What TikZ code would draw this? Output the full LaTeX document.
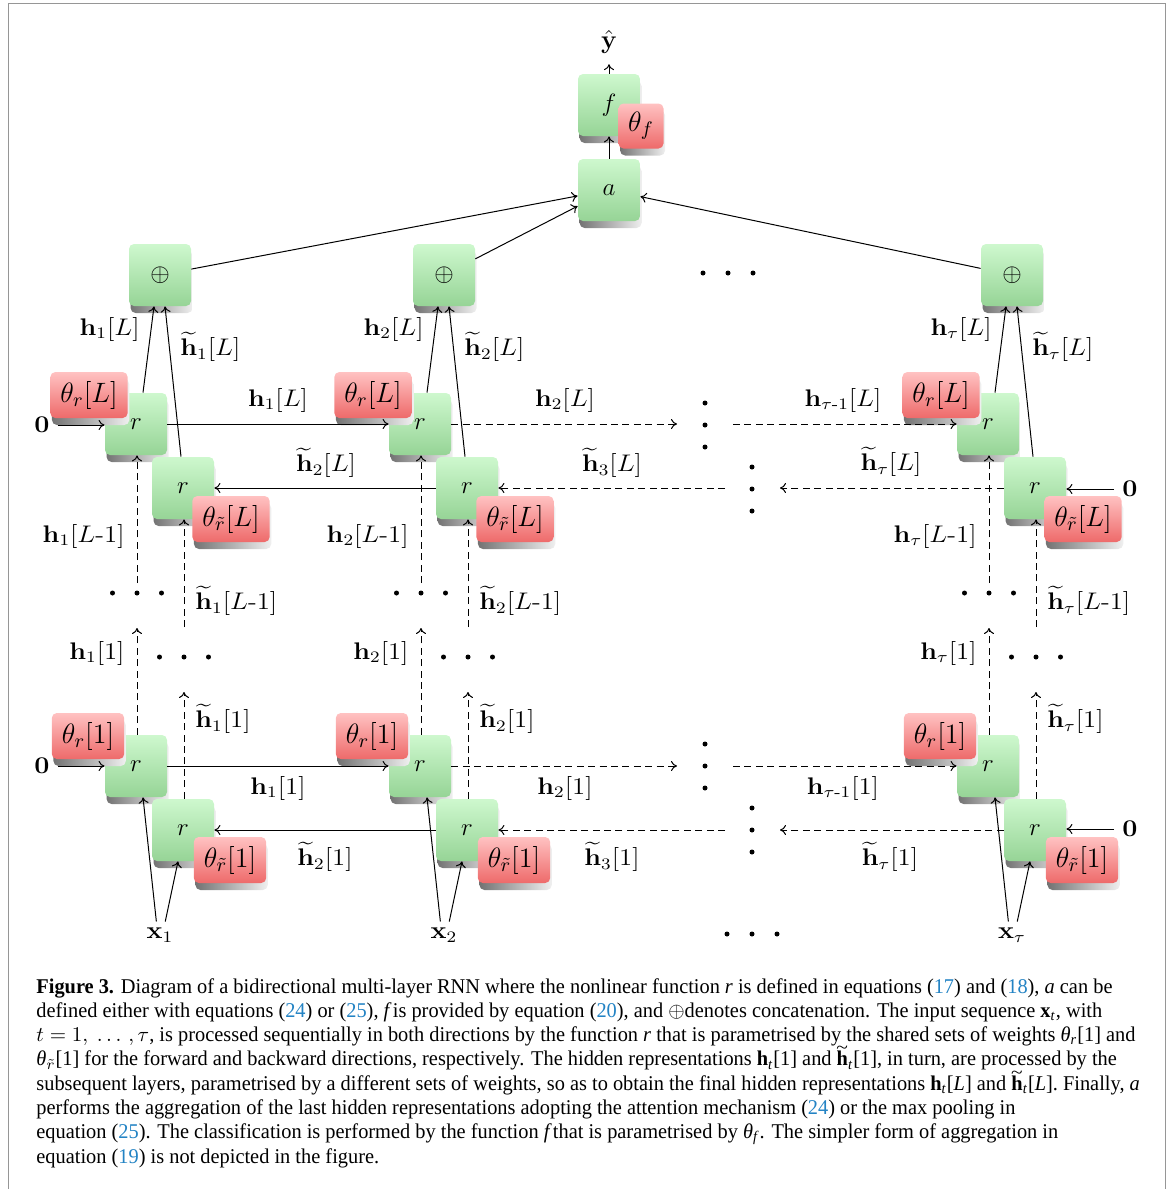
\documentclass[tikz,border=0pt]{standalone}
\usepackage{fix-cm}
\usepackage{amsmath}
\usepackage[no-math]{fontspec}
\newfontfamily\capfont[FakeStretch=0.97]{Liberation Serif}
\usetikzlibrary{shadows,arrows.meta}
\definecolor{gtop}{RGB}{206,248,206}
\definecolor{gbot}{RGB}{150,212,150}
\definecolor{rtop}{RGB}{255,194,194}
\definecolor{rbot}{RGB}{238,106,106}
\definecolor{framegray}{RGB}{150,150,150}
\definecolor{linkblue}{RGB}{35,131,196}
\newcommand{\lb}[1]{\scalebox{1.12}[1]{$#1$}}
\newcommand{\hb}{\mathbf{h}}
\newcommand{\htl}{\widetilde{\mathbf{h}}}
\newcommand{\eqn}[1]{({\color{linkblue}#1})}
\newcommand{\capht}{\textbf{h}\llap{\raisebox{0.57em}[0pt][0pt]{\makebox[0.556em]{\scalebox{1.05}[0.85]{\textasciitilde}}}}}
\tikzset{
 nbox/.style={rectangle, rounded corners=2.5pt, inner sep=0pt, draw=none,
   general shadow={shadow xshift=0.8pt, shadow yshift=-3.5pt, left color=black!55, right color=black!6}},
 gbox/.style={nbox, minimum width=31pt, minimum height=31pt, top color=gtop, bottom color=gbot,
   font=\fontsize{12.5}{14}\selectfont},
 rbox/.style={nbox, minimum height=23pt, inner xsep=5pt, top color=rtop, bottom color=rbot,
   font=\fontsize{14}{16}\selectfont},
 lbl/.style={inner sep=0pt, font=\fontsize{12}{14}\selectfont},
 conn/.style={line width=0.5pt, -{To[length=3pt,width=5pt]}},
 dconn/.style={conn, dash pattern=on 3.5pt off 2.2pt},
 captxt/.style={inner sep=0pt, anchor=base west, font=\capfont\fontsize{10.5}{12}\selectfont}
}
\begin{document}
\begin{tikzpicture}[x=0.5pt,y=-0.5pt]
\useasboundingbox (0,0) rectangle (1171,1189);
\draw[framegray, line width=0.8pt] (8.5,1189) -- (8.5,3.5) -- (1165.5,3.5) -- (1165.5,1189);

% top part
\node[gbox] (f) at (609,105) {$f$};
\node[rbox, minimum width=22.5pt, minimum height=22.5pt, inner xsep=0pt] (thf) at (641,126) {$\theta_f$};
\node[gbox] (a) at (609,190) {$a$};
\node[lbl, font=\fontsize{13}{15}\selectfont] (yhat) at (609,42) {$\hat{\mathbf{y}}$};
\draw[conn] (a) -- (f);
\draw[conn, shorten >=5pt] (f) -- (yhat);

\foreach \c/\dx/\s in {1/0/1,2/284/2,t/852/\tau}{
  \node[gbox] (plus\c) at (160+\dx,275) {$\oplus$};
  % layer L
  \node[gbox] (fL\c) at (136+\dx,424) {$r$};
  \node[rbox] (tfL\c) at (89+\dx,395) {$\theta_r[L]$};
  \node[gbox] (bL\c) at (183+\dx,488) {$r$};
  \node[rbox] (tbL\c) at (231+\dx,519) {$\theta_{\tilde r}[L]$};
  % layer 1
  \node[gbox] (fI\c) at (136+\dx,766) {$r$};
  \node[rbox] (tfI\c) at (88+\dx,736) {$\theta_r[1]$};
  \node[gbox] (bI\c) at (183+\dx,830) {$r$};
  \node[rbox] (tbI\c) at (230+\dx,860) {$\theta_{\tilde r}[1]$};
  % labels
  \node[lbl, anchor=east] (hLup\c) at (140+\dx,329) {\lb{\hb_{\s}[L]}};
  \node[lbl, anchor=west] (htLup\c) at (180+\dx,347) {\lb{\htl_{\s}[L]}};
  \node[lbl, anchor=east] (hLm\c) at (125+\dx,536) {\lb{\hb_{\s}[L\text{-}1]}};
  \node[lbl, anchor=west] (htLm\c) at (195+\dx,601) {\lb{\htl_{\s}[L\text{-}1]}};
  \node[lbl, anchor=east] (hIup\c) at (125+\dx,653) {\lb{\hb_{\s}[1]}};
  \node[lbl, anchor=west] (htIup\c) at (195+\dx,719) {\lb{\htl_{\s}[1]}};
  \node[lbl] (x\c) at (160+\dx,935) {\lb{\mathbf{x}_{\s}}};
  % connectors
  \draw[conn] ([xshift=3.5pt]fL\c.north) -- ([xshift=-3pt]plus\c.south);
  \draw[conn] ([xshift=-1pt]bL\c.north) -- ([xshift=2.5pt]plus\c.south);
  \coordinate (sfL\c) at (137+\dx,583);
  \draw[dconn] (sfL\c) -- (sfL\c |- fL\c.south);
  \coordinate (sbL\c) at (184+\dx,627);
  \draw[dconn] (sbL\c) -- (sbL\c |- bL\c.south);
  \coordinate (efI\c) at (137+\dx,628);
  \draw[dconn] (efI\c |- fI\c.north) -- (efI\c);
  \coordinate (ebI\c) at (184+\dx,692);
  \draw[dconn] (ebI\c |- bI\c.north) -- (ebI\c);
  \draw[conn, shorten <=3pt] ([xshift=-1.5pt]x\c.north) -- ([xshift=3.5pt]fI\c.south);
  \draw[conn, shorten <=3pt] ([xshift=2pt]x\c.north) -- ([xshift=-2.5pt]bI\c.south);
  % dots
  \foreach \k in {-24.5,0,24.5}{
    \fill (137+\dx+\k,593) circle (1.25pt);
    \fill (184+\dx+\k,657) circle (1.25pt);
  }
}

% to aggregation
\draw[conn] (plus1) -- (a);
\draw[conn] (plus2) -- (a);
\draw[conn] (plust) -- (a);
\foreach \k in {703,728,753}{\fill (\k,273) circle (1.25pt);}

% layer L horizontal
\node[lbl] (zL) at (42,425) {\lb{\mathbf{0}}};
\draw[conn, shorten <=4pt] (zL) -- (zL -| fL1.west);
\draw[conn] (fL1) -- (fL2);
\node[lbl] (lab1) at (278,400) {\lb{\hb_1[L]}};
\draw[conn] (bL2) -- (bL1);
\node[lbl] (lab2) at (326,463) {\lb{\htl_2[L]}};
\coordinate (fLend) at (677,424);
\draw[dconn] (fL2) -- (fLend);
\node[lbl] (lab3) at (565,400) {\lb{\hb_2[L]}};
\coordinate (bLstart) at (725,488);
\draw[dconn] (bLstart) -- (bL2);
\node[lbl] (lab4) at (612,463) {\lb{\htl_3[L]}};
\coordinate (fLstart) at (733,424);
\draw[dconn] (fLstart) -- (fLt);
\node[lbl] (lab5) at (843,400) {\lb{\hb_{\tau\text{-}1}[L]}};
\coordinate (bLend) at (780,488);
\draw[dconn] (bLt) -- (bLend);
\node[lbl] (lab6) at (891,462) {\lb{\htl_{\tau}[L]}};
\node[lbl] (zLt) at (1130,489) {\lb{\mathbf{0}}};
\draw[conn, shorten <=4pt] (zLt) -- (zLt -| bLt.east);
\foreach \k in {403,425,447}{\fill (705,\k) circle (1.25pt);}
\foreach \k in {467,489,511}{\fill (752,\k) circle (1.25pt);}

% layer 1 horizontal
\node[lbl] (zI) at (42,766) {\lb{\mathbf{0}}};
\draw[conn, shorten <=4pt] (zI) -- (zI -| fI1.west);
\draw[conn] (fI1) -- (fI2);
\node[lbl] (lab7) at (278,788) {\lb{\hb_1[1]}};
\draw[conn] (bI2) -- (bI1);
\node[lbl] (lab8) at (325,857) {\lb{\htl_2[1]}};
\coordinate (fIend) at (677,766);
\draw[dconn] (fI2) -- (fIend);
\node[lbl] (lab9) at (565,788) {\lb{\hb_2[1]}};
\coordinate (bIstart) at (725,830);
\draw[dconn] (bIstart) -- (bI2);
\node[lbl] (lab10) at (612,857) {\lb{\htl_3[1]}};
\coordinate (fIstart) at (733,766);
\draw[dconn] (fIstart) -- (fIt);
\node[lbl] (lab11) at (843,788) {\lb{\hb_{\tau\text{-}1}[1]}};
\coordinate (bIend) at (780,830);
\draw[dconn] (bIt) -- (bIend);
\node[lbl] (lab12) at (890,857) {\lb{\htl_{\tau}[1]}};
\node[lbl] (zIt) at (1130,829) {\lb{\mathbf{0}}};
\draw[conn, shorten <=4pt] (zIt) -- (zIt -| bIt.east);
\foreach \k in {744,766,788}{\fill (705,\k) circle (1.25pt);}
\foreach \k in {808,830,852}{\fill (752,\k) circle (1.25pt);}
\foreach \k in {727,752,777}{\fill (\k,934) circle (1.25pt);}

% caption
\node[captxt] (c1) at (36,993) {\textbf{Figure 3.} Diagram of a bidirectional multi-layer RNN where the nonlinear function \textit{r} is defined in equations \eqn{17} and \eqn{18}, \textit{a} can be};
\node[captxt] (c2) at (36,1017.3) {defined either with equations \eqn{24} or \eqn{25}, \textit{f\,}is provided by equation \eqn{20}, and $\oplus$denotes concatenation. The input sequence \textbf{x}\textsubscript{\textit{t}}, with};
\node[captxt] (c3) at (36,1041.6) {$t=1,\ \ldots\,,\tau$, is processed sequentially in both directions by the function \textit{r} that is parametrised by the shared sets of weights \textit{θ}\textsubscript{\textit{r}}[1] and};
\node[captxt] (c4) at (36,1065.9) {\textit{θ}\textsubscript{$\tilde{r}$}[1] for the forward and backward directions, respectively. The hidden representations \textbf{h}\textsubscript{\textit{t}}[1] and \capht\textsubscript{\textit{t}}[1], in turn, are processed by the};
\node[captxt] (c5) at (36,1090.2) {subsequent layers, parametrised by a different sets of weights, so as to obtain the final hidden representations \textbf{h}\textsubscript{\textit{t}}[\textit{L}] and \capht\textsubscript{\textit{t}}[\textit{L}]. Finally, \textit{a}};
\node[captxt] (c6) at (36,1114.5) {performs the aggregation of the last hidden representations adopting the attention mechanism \eqn{24} or the max pooling in};
\node[captxt] (c7) at (36,1138.8) {equation \eqn{25}. The classification is performed by the function \textit{f\,}that is parametrised by \textit{θ}\textsubscript{\textit{f}}. The simpler form of aggregation in};
\node[captxt] (c8) at (36,1163.1) {equation \eqn{19} is not depicted in the figure.};
\end{tikzpicture}
\end{document}
